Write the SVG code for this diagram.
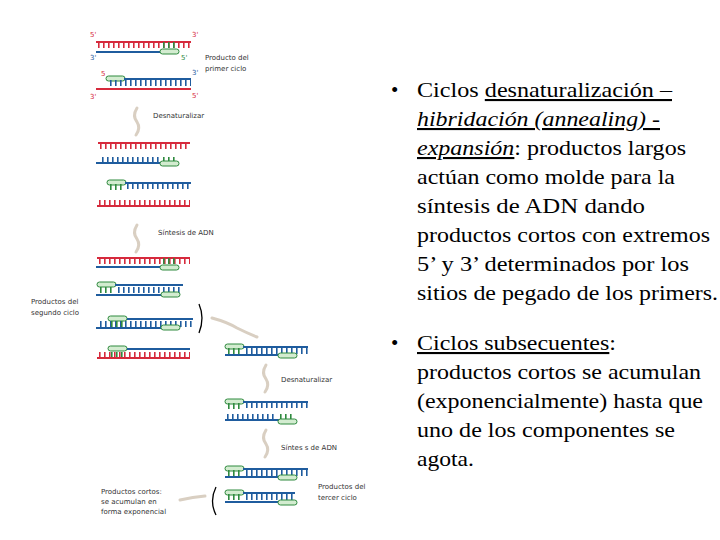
<svg xmlns="http://www.w3.org/2000/svg" width="720" height="540" viewBox="0 0 720 540">
<style>
.r{stroke:#d62a3c}.b{stroke:#1f5c9e}.g{stroke:#2f8a3f}
.ln{stroke-width:2.2;fill:none}
.tk{stroke-width:6;stroke-dasharray:1.6 3.4;fill:none}
.ov{fill:#d3ecd0;stroke:#2f8a3f;stroke-width:1}
.lab{font-family:"DejaVu Sans",sans-serif;font-size:7px;fill:#333}
.pr{font-family:"DejaVu Sans",sans-serif;font-size:7px}
.sq{fill:none;stroke:#d9cfc2;stroke-width:3;stroke-linecap:round}
.t{font-family:"Liberation Serif",serif;font-size:21px;fill:#000}
</style>
<rect width="720" height="540" fill="#fff"/>
<g id="figure">
<text class="pr" x="90" y="37" fill="#d62a3c">5'</text><text class="pr" x="192" y="37" fill="#d62a3c">3'</text>
<line class="ln r" x1="96" y1="42" x2="191" y2="42"/>
<line class="tk r" x1="98" y1="45" x2="191" y2="45"/>
<line class="tk g" x1="163" y1="45" x2="178" y2="45"/>
<line class="ln b" x1="96" y1="52" x2="164" y2="52"/>
<rect class="ov" x="160" y="49" width="19" height="5" rx="2.5"/>
<text class="pr" x="90" y="60" fill="#1f5c9e">3'</text><text class="pr" x="181" y="60" fill="#2f8a3f">5'</text>
<text class="lab" x="205" y="60">Producto del</text><text class="lab" x="205" y="71">primer ciclo</text>
<text class="pr" x="101" y="76" fill="#d62a3c">5</text><text class="pr" x="192" y="75" fill="#1f5c9e">3'</text>
<rect class="ov" x="106" y="76" width="19" height="5" rx="2.5"/>
<line class="ln b" x1="124" y1="79" x2="191" y2="79"/>
<line class="tk b" x1="110" y1="83" x2="191" y2="83"/>
<line class="ln r" x1="96" y1="89" x2="191" y2="89"/>
<text class="pr" x="90" y="99" fill="#d62a3c">3'</text><text class="pr" x="192" y="98" fill="#d62a3c">5'</text>
<path class="sq" d="M137 108 q-5 8 0 14 q4 6 -1 13"/>
<text class="lab" x="153" y="118">Desnaturalizar</text>
<line class="ln r" x1="98" y1="143" x2="190" y2="143"/>
<line class="tk r" x1="100" y1="146" x2="190" y2="146"/>
<line class="ln b" x1="96" y1="163" x2="165" y2="163"/>
<line class="tk b" x1="102" y1="160" x2="160" y2="160"/>
<line class="tk g" x1="163" y1="160" x2="178" y2="160"/>
<rect class="ov" x="160" y="161" width="19" height="5" rx="2.5"/>
<rect class="ov" x="107" y="180" width="19" height="5" rx="2.5"/>
<line class="ln b" x1="125" y1="183" x2="191" y2="183"/>
<line class="tk g" x1="110" y1="187" x2="124" y2="187"/>
<line class="tk b" x1="127" y1="186" x2="189" y2="186"/>
<line class="ln r" x1="97" y1="206" x2="190" y2="206"/>
<line class="tk r" x1="99" y1="203" x2="190" y2="203"/>
<path class="sq" d="M137 225 q-5 8 0 14 q4 6 -1 13"/>
<text class="lab" x="158" y="235">Síntesis de ADN</text>
<line class="ln r" x1="97" y1="258" x2="190" y2="258"/>
<line class="tk r" x1="99" y1="261" x2="190" y2="261"/>
<line class="tk g" x1="163" y1="261" x2="178" y2="261"/>
<line class="ln b" x1="96" y1="267" x2="164" y2="267"/>
<rect class="ov" x="160" y="265" width="19" height="5" rx="2.5"/>
<rect class="ov" x="97" y="282" width="19" height="5" rx="2.5"/>
<line class="ln b" x1="115" y1="285" x2="183" y2="285"/>
<line class="tk g" x1="100" y1="290" x2="115" y2="290"/>
<line class="tk b" x1="118" y1="290" x2="180" y2="290"/>
<line class="ln b" x1="96" y1="295" x2="164" y2="295"/>
<rect class="ov" x="161" y="292" width="19" height="5" rx="2.5"/>
<text class="lab" x="31" y="304">Productos del</text><text class="lab" x="31" y="315">segundo ciclo</text>
<rect class="ov" x="108" y="316" width="19" height="5" rx="2.5"/>
<line class="ln b" x1="127" y1="319" x2="193" y2="319"/>
<line class="tk b" x1="100" y1="324" x2="192" y2="324"/>
<line class="tk g" x1="111" y1="324" x2="125" y2="324"/>
<line class="ln b" x1="96" y1="328" x2="164" y2="328"/>
<rect class="ov" x="161" y="325" width="19" height="5" rx="2.5"/>
<path d="M199 304 q6 14 0 29" fill="none" stroke="#000" stroke-width="1.3"/>
<rect class="ov" x="108" y="346" width="19" height="5" rx="2.5"/>
<line class="ln b" x1="127" y1="349" x2="190" y2="349"/>
<line class="tk r" x1="99" y1="355" x2="190" y2="355"/>
<line class="tk g" x1="111" y1="355" x2="125" y2="355"/>
<line class="ln r" x1="97" y1="358" x2="190" y2="358"/>
<path class="sq" d="M212 318 q15 4 25 10 q10 5 20 9"/>
<rect class="ov" x="225" y="344" width="19" height="5" rx="2.5"/>
<line class="ln b" x1="243" y1="347" x2="308" y2="347"/>
<line class="tk g" x1="228" y1="351" x2="243" y2="351"/>
<line class="tk b" x1="246" y1="351" x2="308" y2="351"/>
<line class="ln b" x1="225" y1="355" x2="280" y2="355"/>
<rect class="ov" x="278" y="353" width="19" height="5" rx="2.5"/>
<path class="sq" d="M266 365 q-5 8 0 14 q4 6 -1 13"/>
<text class="lab" x="281" y="382">Desnaturalizar</text>
<rect class="ov" x="225" y="399" width="19" height="5" rx="2.5"/>
<line class="ln b" x1="243" y1="402" x2="308" y2="402"/>
<line class="tk g" x1="228" y1="406" x2="243" y2="406"/>
<line class="tk b" x1="246" y1="405" x2="308" y2="405"/>
<line class="ln b" x1="225" y1="420" x2="280" y2="420"/>
<line class="tk b" x1="227" y1="417" x2="277" y2="417"/>
<line class="tk g" x1="280" y1="417" x2="294" y2="417"/>
<rect class="ov" x="278" y="419" width="19" height="5" rx="2.5"/>
<path class="sq" d="M266 430 q-5 8 0 14 q4 6 -1 13"/>
<text class="lab" x="281" y="450">Síntes s de ADN</text>
<rect class="ov" x="225" y="466" width="19" height="5" rx="2.5"/>
<line class="ln b" x1="243" y1="469" x2="308" y2="469"/>
<line class="tk g" x1="228" y1="473" x2="243" y2="473"/>
<line class="tk b" x1="246" y1="473" x2="308" y2="473"/>
<line class="ln b" x1="225" y1="477" x2="280" y2="477"/>
<rect class="ov" x="278" y="475" width="19" height="5" rx="2.5"/>
<rect class="ov" x="225" y="490" width="19" height="5" rx="2.5"/>
<line class="ln b" x1="243" y1="493" x2="295" y2="493"/>
<line class="tk g" x1="228" y1="497" x2="243" y2="497"/>
<line class="tk b" x1="246" y1="497" x2="293" y2="497"/>
<line class="ln b" x1="225" y1="502" x2="280" y2="502"/>
<rect class="ov" x="278" y="500" width="19" height="5" rx="2.5"/>
<text class="lab" x="318" y="489">Productos del</text><text class="lab" x="318" y="500">tercer ciclo</text>
<path d="M216 487 q-7 14 0 28" fill="none" stroke="#000" stroke-width="1.3"/>
<path class="sq" d="M205 496 q-12 1 -25 4"/>
<text class="lab" x="101" y="494">Productos cortos:</text>
<text class="lab" x="101" y="504">se acumulan en</text>
<text class="lab" x="101" y="514">forma exponencial</text>
</g>
<g id="text">
<text class="t" x="391" y="97">•</text>
<text class="t" x="417" y="97" textLength="255" lengthAdjust="spacingAndGlyphs">Ciclos <tspan text-decoration="underline">desnaturalización –</tspan></text>
<text class="t" x="417" y="126" textLength="243" lengthAdjust="spacingAndGlyphs" font-style="italic" text-decoration="underline">hibridación (annealing) -</text>
<text class="t" x="417" y="155" textLength="269" lengthAdjust="spacingAndGlyphs"><tspan font-style="italic" text-decoration="underline">expansión</tspan>: productos largos</text>
<text class="t" x="417" y="184" textLength="258" lengthAdjust="spacingAndGlyphs">actúan como molde para la</text>
<text class="t" x="417" y="213" textLength="228" lengthAdjust="spacingAndGlyphs">síntesis de ADN dando</text>
<text class="t" x="417" y="242" textLength="293" lengthAdjust="spacingAndGlyphs">productos cortos con extremos</text>
<text class="t" x="417" y="271" textLength="272" lengthAdjust="spacingAndGlyphs">5’ y 3’ determinados por los</text>
<text class="t" x="417" y="300" textLength="301" lengthAdjust="spacingAndGlyphs">sitios de pegado de los primers.</text>
<text class="t" x="391" y="350">•</text>
<text class="t" x="417" y="350" textLength="199" lengthAdjust="spacingAndGlyphs"><tspan text-decoration="underline">Ciclos subsecuentes</tspan>:</text>
<text class="t" x="417" y="379" textLength="284" lengthAdjust="spacingAndGlyphs">productos cortos se acumulan</text>
<text class="t" x="417" y="408" textLength="286" lengthAdjust="spacingAndGlyphs">(exponencialmente) hasta que</text>
<text class="t" x="417" y="437" textLength="258" lengthAdjust="spacingAndGlyphs">uno de los componentes se</text>
<text class="t" x="417" y="466" textLength="57" lengthAdjust="spacingAndGlyphs">agota.</text>
</g>
</svg>
